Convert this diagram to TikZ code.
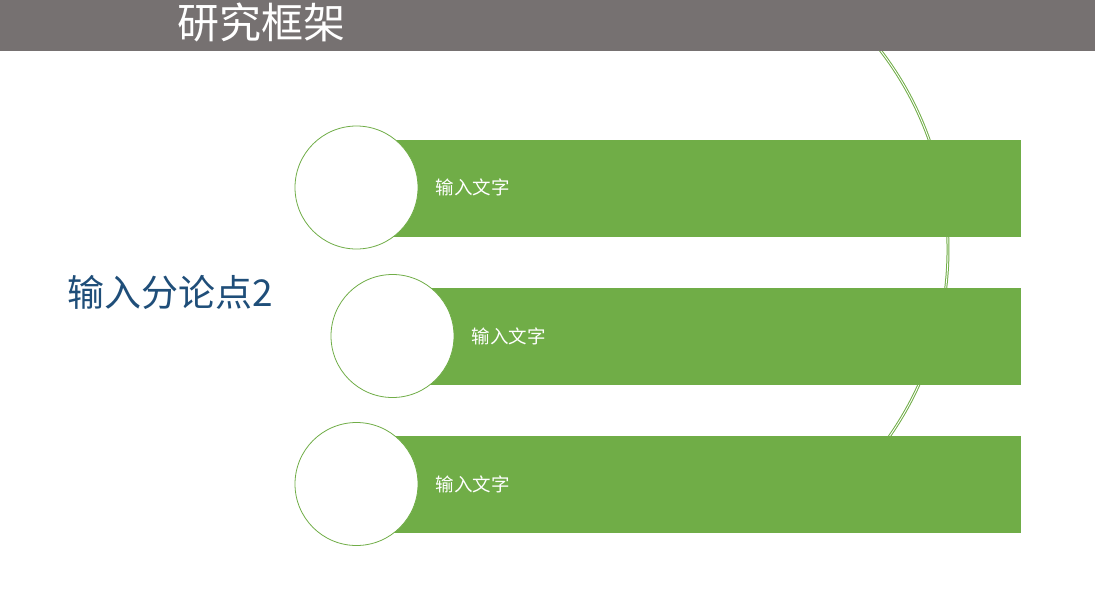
\documentclass[tikz,border=0pt]{standalone}
\usepackage{fontspec}
\setmainfont{Noto Sans CJK SC}
\usepackage{tikz}
\usetikzlibrary{positioning}
\definecolor{leaf}{HTML}{70AD47}
\definecolor{banner}{HTML}{767171}
\definecolor{navy}{HTML}{1F4E79}
\tikzset{
  bar/.style={fill=leaf,inner sep=0pt,minimum width=#1,minimum height=97pt,anchor=west},
  disc/.style={circle,draw=leaf,fill=white,line width=0.8pt,inner sep=0pt,minimum size=123pt},
  ring/.style={draw=leaf,double=white,double distance=0.9pt,line width=1pt},
  item/.style={text=white,inner sep=0pt,font=\fontsize{18.5}{20}\selectfont},
  every node/.style={font=\small}
}

\begin{document}
\begin{tikzpicture}[x=1pt,y=-1pt]
  \useasboundingbox (0,0) rectangle (1095,614);
  % big ring behind the bars
  \draw[ring] (621,249.5) ++(-45:327) arc[start angle=-45,end angle=45,radius=327];
  % title banner
  \fill[banner] (0,0) rectangle (1095,51);
  \node[text=white,inner sep=0pt,font=\fontsize{42}{44}\selectfont] (title) at (261,22) {研究框架};
  % three bars with circles
  \node[bar=664pt] (bar1) at (357,188) {};
  \node[bar=628pt] (bar2) at (393,336.5) {};
  \node[bar=664pt] (bar3) at (357,484.5) {};
  \node[disc] (circ1) at (356.5,187.5) {};
  \node[disc] (circ2) at (392.5,336) {};
  \node[disc] (circ3) at (356.5,484) {};
  \node[item,right=17pt of circ1.east] (txt1) {输入文字};
  \node[item,right=17pt of circ2.east] (txt2) {输入文字};
  \node[item,right=17pt of circ3.east] (txt3) {输入文字};
  % side label
  \node[text=navy,inner sep=0pt,font=\fontsize{37}{40}\selectfont] (point) at (170.5,292) {输入分论点2};
\end{tikzpicture}
\end{document}
